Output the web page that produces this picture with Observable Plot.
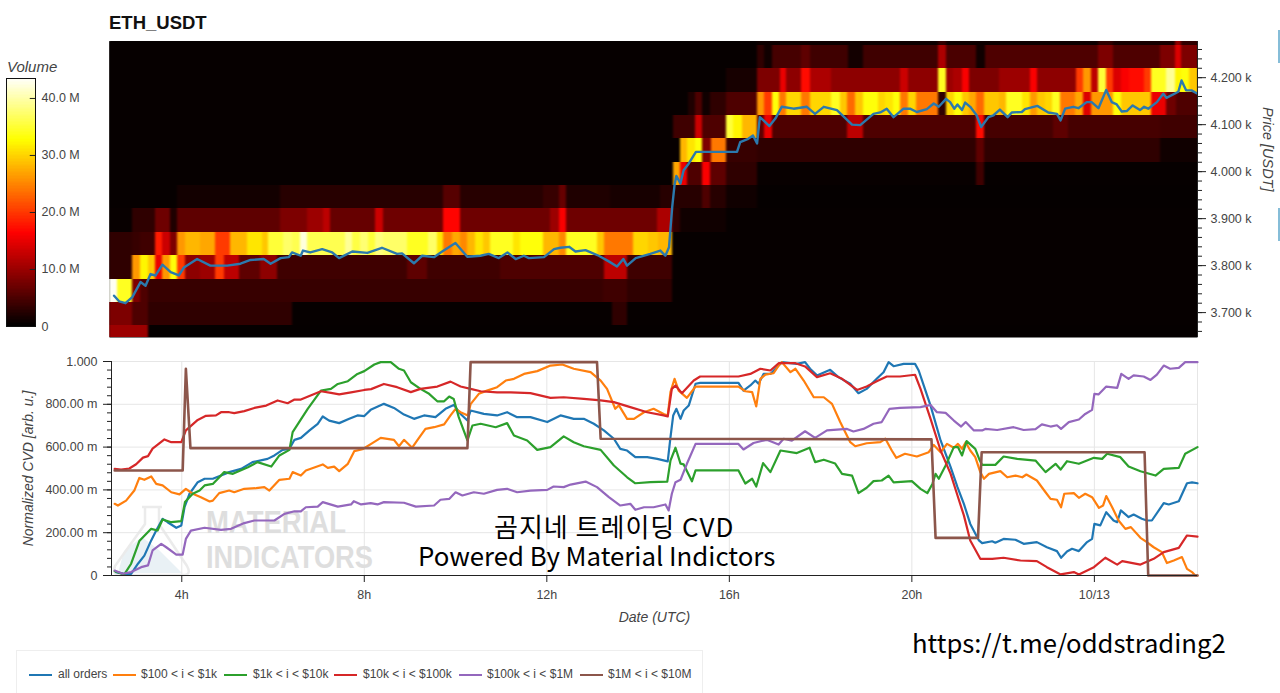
<!DOCTYPE html>
<html><head><meta charset="utf-8">
<script src="https://cdn.jsdelivr.net/npm/d3@7"></script>
<script src="https://cdn.jsdelivr.net/npm/@observablehq/plot@0.6"></script>
<style>
html,body{margin:0;padding:0;background:#fff}
#page{position:relative;width:1280px;height:693px;overflow:hidden;font-family:"Liberation Sans",Arial,sans-serif}
#page>*{position:absolute}
#page svg{font-family:"Liberation Sans",Arial,sans-serif}
.ttl{left:109px;top:12px;font-size:18.5px;font-weight:bold;color:#111}
.vol{left:7px;top:58px;font-size:15px;font-style:italic;color:#444}
.over{font-family:"Noto Sans CJK KR","Noto Sans",sans-serif;color:#000;white-space:nowrap}
.legend{left:16px;top:650px;width:687px;height:43px;border:1px solid #eee;border-bottom:none;box-sizing:border-box;font-size:12px;color:#444}
.legend span{position:absolute;top:16px;white-space:nowrap}
.legend i{position:absolute;top:23px;height:2px}
.edge{background:#86bdd8;width:2px;left:1278px}
g[aria-label="y-axis label"] text,g[aria-label="x-axis label"] text{font-style:italic;font-size:14px;fill:#444}
</style></head><body><div id="page"></div>
<script>
// Heat map rows: lower price edge of each band and [end hour, volume in M] runs
const priceEdges=[3672,3722,3771,3821,3871,3921,3970,4020,4070,4119,4169,4219,4268];
const vol3622=[[3.28,10],[26.28,.3]];
const vol3672=[[2.92,8],[3.28,5],[6.42,3],[13.44,.4],[13.76,3],[26.28,.4]];
const vol3722=[[2.59,43],[2.92,34],[3.1,8],[3.28,5],[13.25,3.5],[13.76,4],[14.76,3],[26.28,.4]];
const vol3771=[[2.92,3],[3.1,26],[3.28,32],[3.43,29],[3.58,15],[3.76,26],[3.92,33],[4.09,20],[4.42,9],[4.74,10],[4.93,20],[5.26,12],[5.73,6],[6.1,9],[8.94,4],[9.38,6],[10.99,4],[13.27,5],[13.76,12],[14.76,4],[26.28,.4]];
const vol3821=[[2.92,3],[3.1,3.5],[3.43,4],[3.58,18],[3.76,13],[3.92,8],[4.09,26],[4.42,28],[4.74,27],[5.07,20],[5.44,28],[5.77,31],[5.91,29],[6.24,35],[6.42,37],[6.61,36],[6.75,42],[7.59,36],[7.74,39],[7.92,35.5],[8.1,37.5],[8.25,35],[8.43,38],[8.94,37],[9.42,34],[9.6,37],[9.74,31],[9.93,24],[10.11,27],[10.26,25],[10.44,28],[10.61,31],[10.77,29],[11.28,34],[11.43,31],[11.94,33],[12.27,28],[12.44,25],[13.11,34],[13.27,29],[13.91,24],[14.24,30],[14.44,29],[14.76,28],[26.28,.4]];
const vol3871=[[2.92,.5],[3.43,3],[3.76,7],[3.92,2],[6.17,6],[6.75,8],[7.12,10],[7.26,12],[8.25,6.5],[8.43,13],[9.74,7],[10.11,16.5],[12.08,7],[12.27,10],[12.44,16],[14.42,7],[14.75,11],[14.93,3],[15.95,1],[26.28,.4]];
const vol3921=[[3.9,.4],[6.17,1.2],[9.74,2.5],[10.11,5.5],[11.94,2.5],[12.27,3.5],[12.44,6.5],[13.4,2],[14.49,1.5],[15.42,2.5],[15.58,5],[15.95,2.5],[16.61,1],[26.28,.3]];
const vol3970=[[14.77,.4],[14.93,27],[15.09,15],[15.42,5],[15.58,16],[15.93,6],[16.61,3],[21.42,.5],[21.59,4],[26.28,.4]];
const vol4020=[[14.93,.4],[15.09,28],[15.26,31],[15.42,33],[15.6,8],[15.93,24],[16.61,3.5],[21.42,3],[21.59,6],[25.44,3],[26.28,1]];
const vol4070=[[14.77,.4],[15.26,4],[15.42,13],[15.93,5],[16.1,35],[16.28,32],[16.61,28],[16.77,6],[16.94,15],[18.58,5],[18.94,12],[21.42,5],[21.59,17],[23.1,4.5],[23.43,6],[25.44,4.5],[26.28,4]];
const vol4119=[[15.11,.4],[15.26,2],[15.42,5],[15.58,1],[15.93,3],[16.61,5],[16.77,26],[16.94,20],[17.1,33],[17.26,24],[17.59,30],[17.77,24],[18.25,30],[18.43,34],[18.59,29],[18.76,23],[18.94,29],[19.27,33],[19.42,30],[19.6,31],[19.76,33],[19.93,24],[20.11,30],[20.59,24],[20.75,3],[20.93,30],[21.1,33],[21.26,29],[21.42,27],[21.59,23],[21.92,29],[22.08,28],[22.42,34],[22.59,31],[22.75,26],[22.92,29],[23.09,30],[23.26,34],[23.59,24],[23.76,27],[23.93,14],[24.42,26],[24.6,33],[25.26,29],[25.58,15],[25.8,7],[26.28,5]];
const vol4169=[[15.93,.4],[16.61,1.5],[17.12,8],[17.26,15],[17.59,9],[17.77,17],[18.25,11],[19.76,9],[19.93,13],[20.59,9],[20.75,34],[20.91,10],[21.1,11],[21.26,16],[21.92,8],[22.59,10],[22.75,16],[23.61,9],[23.76,20],[23.93,26],[24.09,12],[24.26,35],[24.42,20],[24.6,14],[24.77,16],[25.1,17],[25.26,20],[25.58,34],[25.77,39],[25.91,32],[26.09,33],[26.28,29]];
const vol4219=[[16.61,.4],[16.77,3],[16.94,1],[17.59,4.5],[17.77,6],[18.62,4],[18.94,1.2],[20.59,4],[20.75,11],[21.42,4.7],[21.61,1],[24.09,5],[24.42,8],[25.44,5],[25.77,8],[25.91,14],[26.28,8]];
const vol4268=[[16.61,.3],[20.59,.8],[20.75,3],[24.09,.8],[24.42,3],[25.77,1.5],[25.91,9],[26.28,3]];
const volRows=[vol3622,vol3672,vol3722,vol3771,vol3821,vol3871,vol3921,vol3970,vol4020,vol4070,vol4119,vol4169,vol4219,vol4268];

// Price line: [hour, USDT]
const priceLine=[[2.52,3736],[2.63,3724],[2.77,3720],[2.92,3733],[3.1,3765],[3.21,3757],[3.32,3782],[3.43,3779],[3.58,3802],[3.76,3786],[3.94,3779],[4.05,3796],[4.34,3814],[4.63,3800],[5,3800],[5.29,3804],[5.51,3812],[5.8,3814],[5.95,3804],[6.17,3816],[6.35,3818],[6.42,3828],[6.61,3821],[6.66,3832],[6.82,3828],[7.08,3835],[7.3,3828],[7.45,3816],[7.74,3830],[8.07,3827],[8.39,3838],[8.72,3825],[8.83,3826],[9.09,3805],[9.27,3821],[9.53,3818],[9.71,3830],[10,3848],[10.26,3819],[10.55,3821],[10.73,3825],[10.95,3816],[11.14,3828],[11.32,3814],[11.5,3821],[11.61,3816],[11.94,3818],[12.16,3835],[12.3,3838],[12.49,3840],[12.63,3830],[12.85,3833],[13.14,3821],[13.36,3809],[13.54,3798],[13.68,3814],[13.76,3800],[13.95,3816],[14.27,3825],[14.49,3832],[14.6,3821],[14.68,3839],[14.75,3925],[14.8,3971],[14.84,3991],[14.93,3975],[15,4003],[15.11,4017],[15.27,4042],[16.17,4042],[16.24,4063],[16.4,4069],[16.52,4077],[16.61,4060],[16.67,4116],[16.75,4109],[16.88,4097],[17.01,4113],[17.15,4138],[17.41,4134],[17.7,4138],[17.88,4123],[18.07,4138],[18.36,4131],[18.69,4100],[18.87,4099],[19.16,4123],[19.31,4126],[19.45,4134],[19.6,4116],[19.82,4134],[19.96,4134],[20.11,4127],[20.33,4133],[20.48,4145],[20.59,4138],[20.75,4155],[20.84,4148],[20.93,4134],[21,4143],[21.1,4131],[21.17,4147],[21.28,4138],[21.42,4120],[21.52,4095],[21.68,4116],[21.79,4120],[21.93,4132],[22.1,4116],[22.19,4126],[22.41,4127],[22.48,4133],[22.75,4140],[22.99,4126],[23.18,4123],[23.26,4109],[23.36,4134],[23.54,4138],[23.65,4135],[23.83,4148],[23.94,4148],[24.09,4135],[24.26,4174],[24.38,4148],[24.49,4143],[24.6,4128],[24.71,4129],[24.84,4141],[25,4131],[25.09,4138],[25.18,4134],[25.37,4148],[25.51,4166],[25.58,4157],[25.84,4170],[25.91,4194],[26.01,4173],[26.13,4173],[26.24,4167]];

// CVD series: [hour, normalized value]
const cvdAll=[[2.56,.016],[2.78,.005],[2.89,.008],[3.04,.055],[3.18,.093],[3.33,.164],[3.44,.21],[3.58,.265],[3.69,.249],[3.88,.223],[3.99,.234],[4.06,.319],[4.17,.382],[4.35,.436],[4.5,.452],[4.68,.452],[4.86,.467],[5.04,.483],[5.3,.498],[5.55,.53],[5.88,.545],[6.03,.561],[6.21,.587],[6.36,.592],[6.47,.634],[6.61,.643],[6.8,.678],[6.98,.709],[7.09,.743],[7.23,.724],[7.45,.712],[7.67,.732],[7.85,.748],[8,.745],[8.14,.774],[8.43,.802],[8.65,.783],[8.87,.752],[9.09,.732],[9.31,.748],[9.56,.74],[9.78,.779],[9.96,.797],[10.11,.755],[10.26,.724],[10.33,.771],[10.62,.755],[10.91,.748],[11.13,.763],[11.35,.74],[11.64,.74],[12.01,.717],[12.3,.748],[12.59,.732],[12.81,.732],[13.03,.709],[13.25,.678],[13.47,.639],[13.61,.592],[13.76,.584],[13.94,.553],[14.2,.553],[14.42,.545],[14.65,.533],[14.71,.646],[14.77,.748],[14.84,.779],[14.93,.732],[15,.771],[15.11,.794],[15.26,.896],[15.36,.9],[16.2,.9],[16.31,.864],[16.46,.888],[16.57,.911],[16.64,.896],[16.75,.942],[16.9,.942],[17.08,.981],[17.15,.997],[17.48,.989],[17.66,.997],[17.77,.966],[17.92,.935],[18.21,.961],[18.39,.927],[18.65,.896],[18.83,.852],[19.01,.872],[19.23,.919],[19.38,.95],[19.49,.997],[19.6,.978],[19.82,.989],[20.07,.989],[20.15,.958],[20.26,.888],[20.41,.794],[20.63,.631],[20.85,.506],[21,.413],[21.14,.335],[21.28,.241],[21.47,.164],[21.54,.151],[21.76,.16],[21.83,.153],[22.01,.171],[22.27,.167],[22.45,.148],[22.74,.156],[22.96,.132],[23.18,.114],[23.27,.083],[23.4,.112],[23.51,.125],[23.66,.114],[23.84,.156],[23.95,.171],[24,.241],[24.13,.234],[24.26,.296],[24.42,.257],[24.5,.249],[24.58,.304],[24.75,.273],[24.86,.285],[25.04,.265],[25.15,.257],[25.26,.257],[25.52,.338],[25.63,.332],[25.85,.347],[26.03,.431],[26.14,.435],[26.26,.431]];
const cvd100=[[2.53,.335],[2.6,.327],[2.78,.35],[2.96,.397],[3.07,.456],[3.18,.447],[3.33,.463],[3.44,.428],[3.58,.421],[3.77,.389],[3.95,.379],[4.09,.405],[4.24,.382],[4.42,.366],[4.61,.346],[4.68,.35],[4.82,.385],[5.04,.397],[5.15,.389],[5.37,.405],[5.63,.408],[5.81,.413],[5.92,.397],[6.14,.447],[6.36,.452],[6.43,.483],[6.61,.467],[6.72,.491],[7.09,.519],[7.2,.503],[7.34,.509],[7.45,.488],[7.64,.522],[7.78,.581],[7.96,.59],[8.15,.615],[8.36,.643],[8.65,.634],[8.76,.604],[8.87,.634],[9.05,.597],[9.16,.631],[9.34,.685],[9.53,.693],[9.75,.706],[9.89,.748],[10,.779],[10.11,.763],[10.27,.748],[10.33,.801],[10.51,.849],[10.69,.864],[10.91,.88],[11.1,.911],[11.28,.919],[11.5,.942],[11.79,.955],[12.08,.981],[12.34,.986],[12.59,.966],[12.96,.95],[13.18,.911],[13.32,.872],[13.5,.779],[13.58,.795],[13.76,.732],[13.91,.732],[14.13,.763],[14.34,.779],[14.56,.755],[14.65,.748],[14.71,.857],[14.8,.919],[14.89,.864],[15.07,.83],[15.26,.883],[16.2,.883],[16.35,.861],[16.5,.857],[16.59,.79],[16.68,.919],[16.79,.939],[16.97,.945],[17.08,.981],[17.15,.997],[17.34,.95],[17.45,.966],[17.63,.911],[17.85,.833],[18.07,.833],[18.25,.802],[18.43,.717],[18.65,.623],[18.76,.604],[19.01,.618],[19.31,.623],[19.42,.639],[19.56,.584],[19.66,.55],[19.85,.569],[20.11,.556],[20.37,.576],[20.48,.61],[20.63,.576],[20.77,.615],[20.92,.597],[21.01,.615],[21.1,.592],[21.18,.623],[21.28,.584],[21.39,.553],[21.5,.483],[21.58,.452],[21.69,.475],[21.94,.488],[22.09,.459],[22.27,.467],[22.42,.459],[22.51,.472],[22.74,.444],[22.93,.389],[23.04,.358],[23.18,.354],[23.27,.319],[23.34,.382],[23.55,.385],[23.66,.363],[23.8,.382],[23.95,.366],[24.1,.316],[24.19,.327],[24.26,.371],[24.39,.319],[24.53,.257],[24.68,.218],[24.8,.226],[25.01,.176],[25.15,.156],[25.3,.132],[25.48,.109],[25.59,.058],[25.74,.07],[25.92,.086],[26.03,.031],[26.14,.016],[26.21,0],[26.26,0]];
const cvd1k=[[2.53,.02],[2.74,.005],[2.89,.055],[3.07,.161],[3.33,.218],[3.47,.21],[3.58,.262],[3.77,.249],[3.99,.254],[4.07,.343],[4.24,.382],[4.39,.397],[4.5,.421],[4.68,.428],[4.93,.483],[5.12,.475],[5.45,.506],[5.66,.53],[5.96,.509],[6.14,.561],[6.36,.587],[6.43,.67],[6.76,.779],[7.05,.864],[7.27,.872],[7.42,.895],[7.64,.908],[7.85,.942],[8,.955],[8.22,.986],[8.36,.997],[8.58,.997],[8.76,.966],[8.87,.958],[9.02,.903],[9.23,.872],[9.42,.849],[9.6,.814],[9.75,.814],[9.86,.836],[9.96,.825],[10.07,.74],[10.26,.631],[10.37,.701],[10.55,.709],[10.88,.693],[11.13,.712],[11.28,.654],[11.57,.631],[11.79,.587],[12.08,.6],[12.37,.65],[12.59,.623],[12.81,.604],[13.18,.587],[13.47,.514],[13.76,.459],[13.94,.431],[14.27,.436],[14.64,.439],[14.71,.537],[14.82,.597],[14.93,.523],[15,.519],[15.18,.44],[15.26,.491],[16.2,.491],[16.35,.43],[16.5,.452],[16.59,.416],[16.74,.525],[16.9,.483],[17.12,.584],[17.48,.572],[17.76,.597],[17.88,.53],[18.07,.541],[18.32,.523],[18.47,.475],[18.69,.467],[18.83,.385],[19.01,.41],[19.16,.441],[19.34,.444],[19.49,.467],[19.6,.435],[20,.441],[20.19,.405],[20.34,.385],[20.45,.428],[20.52,.475],[20.59,.452],[20.74,.514],[20.92,.6],[21.01,.6],[21.1,.561],[21.2,.628],[21.39,.592],[21.49,.537],[21.54,.517],[21.83,.517],[22.01,.556],[22.31,.545],[22.71,.537],[22.93,.483],[23.15,.522],[23.26,.495],[23.4,.534],[23.66,.522],[23.99,.55],[24.17,.545],[24.28,.569],[24.57,.553],[24.75,.509],[25.01,.487],[25.34,.467],[25.52,.498],[25.85,.503],[25.99,.569],[26.26,.6]];
const cvd10k=[[2.53,.498],[2.67,.495],[2.85,.5],[3,.52],[3.15,.551],[3.26,.558],[3.36,.593],[3.62,.636],[3.77,.623],[3.99,.623],[4.09,.678],[4.35,.727],[4.53,.746],[4.75,.748],[4.86,.763],[5.04,.763],[5.15,.759],[5.37,.768],[5.59,.783],[5.85,.794],[6.1,.818],[6.32,.805],[6.47,.822],[6.61,.822],[7.05,.861],[7.27,.853],[7.45,.846],[7.71,.856],[8,.867],[8.15,.871],[8.43,.895],[8.72,.88],[9.02,.857],[9.23,.872],[9.6,.883],[9.89,.906],[10.11,.883],[10.33,.872],[10.55,.861],[10.91,.856],[11.21,.856],[11.64,.852],[12.08,.83],[12.37,.833],[12.81,.825],[13.18,.818],[13.47,.81],[13.83,.787],[14.2,.763],[14.56,.748],[14.65,.743],[14.74,.872],[14.82,.888],[14.96,.852],[15.22,.911],[15.36,.93],[16.2,.93],[16.46,.942],[16.68,.966],[16.9,.958],[17.08,.992],[17.45,.992],[17.66,.977],[17.92,.927],[18.21,.945],[18.47,.919],[18.8,.867],[19.01,.883],[19.23,.908],[19.45,.93],[19.74,.93],[20.07,.938],[20.19,.872],[20.41,.732],[20.63,.584],[20.85,.475],[21,.374],[21.14,.281],[21.28,.164],[21.5,.078],[21.76,.078],[22.01,.083],[22.38,.07],[22.74,.067],[22.96,.039],[23.26,.005],[23.55,.016],[23.66,.005],[23.99,.039],[24.24,.083],[24.5,.051],[24.61,.067],[25.01,.051],[25.3,.078],[25.52,.109],[25.85,.129],[26.03,.187],[26.26,.182]];
const cvd100k=[[2.53,.023],[2.71,.008],[2.89,.016],[3.11,.039],[3.26,.047],[3.36,.117],[3.55,.148],[3.66,.132],[3.88,.098],[4.02,.098],[4.09,.171],[4.2,.21],[4.5,.223],[4.86,.213],[5.08,.218],[5.37,.245],[5.59,.257],[6.03,.257],[6.25,.288],[6.47,.3],[6.61,.3],[6.72,.319],[6.98,.322],[7.09,.343],[7.42,.322],[7.71,.332],[7.77,.347],[7.93,.332],[8.14,.338],[8.29,.332],[8.43,.343],[8.87,.34],[9.13,.322],[9.53,.327],[9.67,.354],[9.86,.358],[10,.389],[10.15,.374],[10.4,.389],[10.62,.382],[10.91,.4],[11.13,.405],[11.35,.389],[11.64,.397],[12.01,.4],[12.15,.416],[12.37,.413],[12.52,.425],[12.85,.439],[13.1,.413],[13.36,.366],[13.61,.327],[13.83,.335],[13.94,.307],[14.13,.319],[14.34,.319],[14.6,.332],[14.67,.304],[14.74,.382],[14.82,.436],[14.93,.447],[15.07,.522],[15.26,.615],[16.2,.615],[16.31,.589],[16.53,.619],[16.82,.634],[17.08,.612],[17.19,.639],[17.37,.63],[17.66,.674],[17.88,.643],[18.14,.678],[18.58,.685],[18.72,.673],[18.94,.685],[19.16,.709],[19.34,.717],[19.51,.779],[19.74,.783],[20.19,.787],[20.41,.797],[20.55,.763],[20.74,.76],[20.92,.724],[21.08,.696],[21.18,.717],[21.36,.678],[21.54,.678],[21.61,.685],[21.87,.68],[22.23,.693],[22.45,.68],[22.71,.684],[22.85,.706],[23.04,.696],[23.18,.702],[23.27,.685],[23.44,.717],[23.66,.729],[23.8,.755],[23.95,.774],[24,.849],[24.09,.846],[24.26,.883],[24.5,.877],[24.59,.942],[24.75,.919],[24.86,.935],[25.08,.93],[25.23,.914],[25.37,.939],[25.52,.981],[25.66,.966],[25.85,.97],[25.99,.997],[26.26,.997]];
const cvd1M=[[2.53,.491],[4.02,.491],[4.09,.966],[4.19,.595],[10.26,.595],[10.33,.997],[13.1,.997],[13.18,.639],[20.43,.636],[20.52,.176],[21.45,.176],[21.53,.576],[25.1,.576],[25.18,0],[26.26,0]];

const seriesNames=["all orders","$100 < i < $1k","$1k < i < $10k","$10k < i < $100k","$100k < i < $1M","$1M < i < $10M"];
const seriesColors=["#1f77b4","#ff7f0e","#2ca02c","#d62728","#9467bd","#8c564b"];
const seriesData=[cvdAll,cvd100,cvd1k,cvd10k,cvd100k,cvd1M];
const hourTicks=[4,8,12,16,20,24];
const hourLabels=["4h","8h","12h","16h","20h","10/13"];
const priceTicks=[3700,3800,3900,4000,4100,4200];
const cvdTicks=[0,.2,.4,.6,.8,1];
const volTicks=[0,10,20,30,40];
const colorScale={type:"linear",domain:[0,16.3,32.6,43.5],range:["#000000","#ff0000","#ffff00","#ffffff"]};

const page=document.getElementById("page");
function place(node,left,top){node.style.position="absolute";node.style.left=left+"px";node.style.top=top+"px";page.appendChild(node);return node;}
function html(cls,text,style){const d=document.createElement("div");d.className=cls;d.textContent=text;if(style)d.style.cssText=style;page.appendChild(d);return d;}

// table of heat map cells
const cells=[];
volRows.forEach((runs,i)=>{
  const lo=i===0?3622:priceEdges[i-1];
  const hi=i<priceEdges.length?priceEdges[i]:4318;
  let start=2.42;
  for(const [end,v] of runs){cells.push({t1:start,t2:end,lo,hi,v});start=end;}
});

html("ttl","ETH_USDT");
html("vol","Volume");

// colour bar
const ramp=d3.range(0,43.5,.25);
place(Plot.plot({
  width:100,height:280,marginTop:18,marginBottom:14,marginLeft:6,marginRight:65,
  style:{background:"transparent",fontSize:"12.5px"},
  x:{axis:null,domain:[0,1]},
  y:{domain:[0,43.5],axis:null},
  color:colorScale,
  marks:[
    Plot.rect(ramp,{x1:0,x2:1,y1:d=>d,y2:d=>d+.25,fill:d=>d,shapeRendering:"crispEdges"}),
    Plot.frame({stroke:"#111"}),
    Plot.ruleY(volTicks.filter(d=>d>0),{x1:.82,x2:1,stroke:"#222"}),
    Plot.axisY(volTicks,{anchor:"right",tickSize:0,tickPadding:6,label:null,fill:"#444",
      tickFormat:d=>d===0?"0":d.toFixed(1)+" M"})
  ]
}),0,60);

// heat map + price
const heatPlot=Plot.plot({
  width:1280,height:345,marginTop:41,marginBottom:8,marginLeft:109,marginRight:83,
  style:{background:"transparent",fontSize:"12.5px"},
  x:{domain:[2.42,26.26],axis:null},
  y:{domain:[3647,4277],axis:null},
  color:colorScale,
  marks:[
    Plot.frame({fill:"#000",stroke:"none"}),
    Plot.rect(cells,{x1:"t1",x2:"t2",y1:"lo",y2:"hi",fill:"v",shapeRendering:"crispEdges",clip:true}),
    Plot.line(priceLine,{x:d=>d[0],y:d=>d[1],stroke:"#2b79ad",strokeWidth:2.4}),
    Plot.axisY(d3.range(3660,4277,20),{anchor:"right",tickSize:4,text:null,label:null,stroke:"#222"}),
    Plot.axisY(priceTicks,{anchor:"right",tickSize:8,tickPadding:5,stroke:"#222",fill:"#444",label:null,
      tickFormat:d=>(d/1000).toFixed(3)+" k"}),
    Plot.ruleX([26.26],{stroke:"#222"}),
    Plot.text(["Price [USDT]"],{frameAnchor:"right",dx:70,dy:2,rotate:90,fontStyle:"italic",fontSize:14.5,fill:"#444"})
  ]
});
// soften the columns sideways as in the reference image; bands keep their sharp edges
const ns="http://www.w3.org/2000/svg";
const defs=document.createElementNS(ns,"defs");
defs.innerHTML='<filter id="hblur" x="-1%" y="-1%" width="102%" height="102%" color-interpolation-filters="sRGB"><feGaussianBlur stdDeviation="1.3 0"/></filter>';
heatPlot.insertBefore(defs,heatPlot.firstChild);
const rectGroup=heatPlot.querySelector('g[aria-label="rect"]');
if(rectGroup)rectGroup.setAttribute("filter","url(#hblur)");
place(heatPlot,0,0);

// watermark flask (behind the lines)
const wm=document.createElementNS(ns,"svg");
wm.setAttribute("width",100);wm.setAttribute("height",80);
wm.innerHTML='<path d="M14 47 L32 33 L50 47 L72 69 L8 69 Z" fill="#e9f1f5"/><path d="M32 3 H52 M35 3 V20 L5 62 Q2 71 10 71 H73 Q82 71 77 62 L49 20 V3" fill="none" stroke="#ebebeb" stroke-width="2.5"/>';
place(wm,110,504);

// CVD panel
const cvdPlot=Plot.plot({
  width:1280,height:290,marginTop:16,marginBottom:60,marginLeft:111,marginRight:83,
  style:{background:"transparent",fontSize:"12.5px"},
  x:{domain:[2.46,26.26],axis:null},
  y:{domain:[0,1],axis:null},
  marks:[
    Plot.ruleY(cvdTicks,{stroke:"#e6e6e6",strokeWidth:1}),
    Plot.ruleX([...hourTicks,26.26],{stroke:"#e6e6e6",strokeWidth:1}),
    Plot.text(["MATERIAL"],{x:4.53,y:.248,textAnchor:"start",fontWeight:"bold",fontSize:32,fill:"#dedede"}),
    Plot.text(["INDICATORS"],{x:4.53,y:.084,textAnchor:"start",fontWeight:"bold",fontSize:32,fill:"#dedede"}),
    ...seriesData.map((s,i)=>Plot.line(s,{x:d=>d[0],y:d=>d[1],stroke:seriesColors[i],strokeWidth:i===5?2.6:2.2})),
    Plot.ruleY([0],{stroke:"#222",strokeWidth:1.2}),
    Plot.axisY(d3.range(0,1.001,.04),{anchor:"left",tickSize:4,text:null,label:null,stroke:"#222"}),
    Plot.axisY(cvdTicks,{anchor:"left",tickSize:8,tickPadding:6,stroke:"#222",fill:"#444",
      tickFormat:d=>d===0?"0":d===1?"1.000":(d*1000).toFixed(2)+" m",
      label:"Normalized CVD [arb. u.]",labelAnchor:"center",labelArrow:"none",labelOffset:88}),
    Plot.ruleX([2.46],{stroke:"#222"}),
    Plot.axisX(hourTicks,{anchor:"bottom",tickSize:7,tickPadding:8,stroke:"#222",fill:"#444",
      tickFormat:d=>hourLabels[hourTicks.indexOf(d)],
      label:"Date (UTC)",labelAnchor:"center",labelArrow:"none",labelOffset:46})
  ]
});
// squeeze the watermark wordmark to its narrow lettering
const wordWidths={"MATERIAL":140,"INDICATORS":167};
d3.select(cvdPlot).selectAll("text").each(function(){
  const w=wordWidths[this.textContent];
  if(w){this.setAttribute("textLength",w);this.setAttribute("lengthAdjust","spacingAndGlyphs");}
});
place(cvdPlot,0,345);

// overlay texts
html("over","곰지네 트레이딩 CVD","left:494px;top:511px;font-size:26px;line-height:29px;letter-spacing:1px");
html("over","Powered By Material Indictors","left:418px;top:540px;font-size:25.8px;line-height:29px");
html("over","https://t.me/oddstrading2","left:912px;top:624px;font-size:25.7px;line-height:36px");

// legend
const legend=html("legend","");
const swatchX=[12,96,207,317,442,563];
const labelX=[41,124,236,346,470,591];
seriesNames.forEach((n,i)=>{
  const sw=document.createElement("i");sw.style.left=swatchX[i]+"px";sw.style.width="23px";sw.style.background=seriesColors[i];legend.appendChild(sw);
  const sp=document.createElement("span");sp.textContent=n;sp.style.left=labelX[i]+"px";legend.appendChild(sp);
});
html("edge","","top:30px;height:33px");
html("edge","","top:208px;height:33px");
</script></body></html>
